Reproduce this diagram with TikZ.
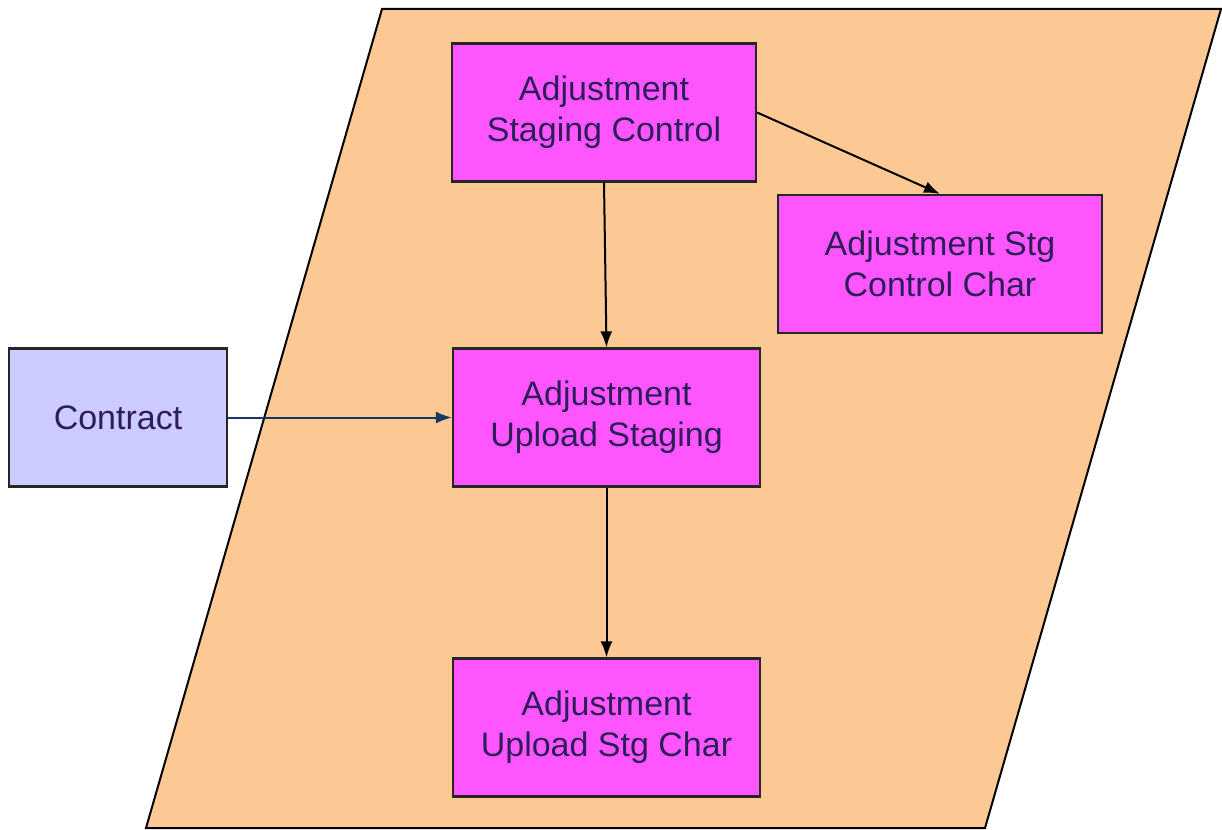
\documentclass[tikz,border=0pt]{standalone}
\usepackage{fontspec}
\setmainfont{Liberation Sans}
\usetikzlibrary{arrows.meta}

\definecolor{areafill}{RGB}{252,201,148}
\definecolor{tblfill}{RGB}{255,85,255}
\definecolor{extfill}{RGB}{204,204,255}
\definecolor{txtcol}{RGB}{45,30,90}
\definecolor{linkblue}{RGB}{25,55,100}

\begin{document}
\begin{tikzpicture}[x=1pt,y=-1pt,
  tbl/.style={draw=black!85,line width=2.2pt,fill=tblfill,text=txtcol,
    minimum width=304pt,minimum height=138pt,align=center,
    font=\fontsize{34}{41}\selectfont},
  ext/.style={tbl,fill=extfill,minimum width=218pt},
  link/.style={-{Latex[length=16pt,width=12pt]},line width=2pt}]
\useasboundingbox (0,0) rectangle (1222,829);
% the parallelogram that holds the staging tables
\draw[fill=areafill,line width=2pt] (382,9) -- (1221,9) -- (985,828) -- (146,828) -- cycle;
% tables
\node[tbl] (ctrl) at (604,112.5) {Adjustment\\Staging Control};
\node[tbl,minimum width=324pt] (ctrlchar) at (940,264) {Adjustment Stg\\Control Char};
\node[tbl,minimum width=307pt] (upload) at (606.5,417.5) {Adjustment\\Upload Staging};
\node[tbl,minimum width=307pt] (uploadchar) at (606.5,727.5) {Adjustment\\Upload Stg Char};
\node[ext] (contract) at (118,417.5) {Contract};
% links
\draw[link] (ctrl.south) -- (upload.north);
\draw[link] (ctrl.east) -- (ctrlchar.north);
\draw[link] (upload.south) -- (uploadchar.north);
\draw[link,draw=linkblue] (contract.east) -- (upload.west);
\end{tikzpicture}
\end{document}
